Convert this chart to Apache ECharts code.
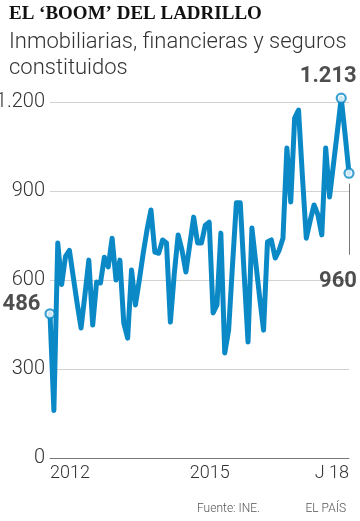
<!DOCTYPE html>
<html>
<head>
<meta charset="utf-8">
<script src="https://cdn.jsdelivr.net/npm/echarts@6/dist/echarts.min.js"></script>
<style>
html,body{margin:0;padding:0;background:#fff;}
#chart{width:360px;height:521px;}
</style>
</head>
<body>
<div id="chart"></div>
<script>
// ---- data ----
const titleText = 'EL ‘BOOM’ DEL LADRILLO';
const subtitleText = 'Inmobiliarias, financieras y seguros\nconstituidos';
const sourceText = 'Fuente: INE.';
const brandText = 'EL PAÍS';

// monthly values, Jan 2012 .. Jun 2018
const values = [
  486, 160, 725, 585, 680, 700, 610, 520, 438, 550, 667, 448,
  593, 590, 677, 644, 741, 600, 667, 455, 404, 634, 516, 600,
  690, 770, 836, 694, 690, 735, 725, 458, 620, 752, 700, 627,
  720, 812, 725, 725, 785, 795, 489, 516, 758, 354, 431, 650,
  860, 860, 620, 391, 775, 657, 540, 431, 728, 735, 674, 700,
  741, 1045, 863, 1146, 1173, 950, 741, 800, 853, 820, 752, 1045,
  880, 990, 1100, 1213, 1090, 960
];
const startYear = 2012;
const months = [];
for (let i = 0; i < values.length; i++) {
  const y = startYear + Math.floor(i / 12);
  const m = (i % 12) + 1;
  months.push(y + '-' + (m < 10 ? '0' + m : m));
}
const xTickIndex = [0, 36, 77];
const xTickText = ['2012', '2015', 'J 18'];
const yTicks = [0, 300, 600, 900, 1200];
const yTickText = ['0', '300', '600', '900', '1.200'];
const highlightIndex = [0, 75, 77];
const highlightText = ['486', '1.213', '960'];

// ---- chart ----
const blue = '#0a89c6';
const chart = echarts.init(document.getElementById('chart'));
const lightFont = 'Roboto';

const hlData = highlightIndex.map((idx, k) => {
  const item = { value: [idx, values[idx]], label: { show: true, formatter: highlightText[k] } };
  if (k === 0) { item.label.position = 'left'; item.label.distance = 4; item.label.offset = [0, -9]; }
  if (k === 1) { item.label.position = 'top'; item.label.distance = 5; item.label.offset = [-13, 0]; }
  if (k === 2) { item.label.position = 'bottom'; item.label.distance = 92; item.label.offset = [-11, 0]; }
  return item;
});

chart.setOption({
  animation: false,
  backgroundColor: '#fff',
  title: [
    { text: titleText, left: 4, top: 0,
      textStyle: { fontFamily: 'Liberation Serif', fontWeight: 'bold', fontSize: 19, color: '#111' } },
    { text: subtitleText, left: 4, top: 24,
      textStyle: { fontFamily: lightFont, fontWeight: 300, fontSize: 22, lineHeight: 26, color: '#333' } },
    { text: sourceText, left: 192, top: 498,
      textStyle: { fontFamily: lightFont, fontWeight: 300, fontSize: 12, color: '#555' } },
    { text: brandText, right: 9, top: 498,
      textStyle: { fontFamily: lightFont, fontWeight: 300, fontSize: 12, color: '#555' } }
  ],
  grid: { left: 50, right: 11, top: 102, bottom: 63, containLabel: false, outerBoundsMode: 'none' },
  xAxis: {
    type: 'category',
    data: months,
    boundaryGap: false,
    axisLine: { show: true, lineStyle: { color: '#777', width: 1 } },
    axisTick: { show: false },
    splitLine: { show: false },
    axisLabel: {
      interval: (i) => xTickIndex.indexOf(i) >= 0,
      formatter: (v, i) => { const k = xTickIndex.indexOf(i); return k >= 0 ? xTickText[k] : ''; },
      align: 'left',
      alignMaxLabel: 'right',
      margin: 6,
      fontFamily: lightFont, fontWeight: 300, fontSize: 18, color: '#333'
    }
  },
  yAxis: {
    type: 'value',
    min: yTicks[0],
    max: yTicks[yTicks.length - 1],
    interval: 300,
    axisLine: { show: false },
    axisTick: { show: false },
    splitLine: { show: true, lineStyle: { color: '#d2d2d2', width: 1 } },
    axisLabel: {
      formatter: (v) => { const k = yTicks.indexOf(v); return k >= 0 ? yTickText[k] : ''; },
      margin: 5,
      verticalAlign: 'middle',
      padding: [0, 0, 14, 0],
      fontFamily: lightFont, fontWeight: 300, fontSize: 20, color: '#333'
    }
  },
  series: [
    {
      type: 'line',
      data: values,
      showSymbol: false,
      symbol: 'none',
      clip: false,
      lineStyle: { color: blue, width: 5, join: 'round', cap: 'round' },
      markLine: {
        silent: true,
        symbol: 'none',
        label: { show: false },
        lineStyle: { color: '#777', width: 1, type: 'solid' },
        data: [[{ coord: [77, 925] }, { coord: [77, 685] }]]
      },
      z: 2
    },
    {
      type: 'scatter',
      data: hlData,
      symbol: 'circle',
      symbolSize: 9,
      clip: false,
      itemStyle: { color: '#fff', borderColor: blue, borderWidth: 2.2 },
      label: { fontFamily: lightFont, fontWeight: 'bold', fontSize: 22, color: '#222' },
      z: 3
    }
  ]
});
</script>
</body>
</html>
